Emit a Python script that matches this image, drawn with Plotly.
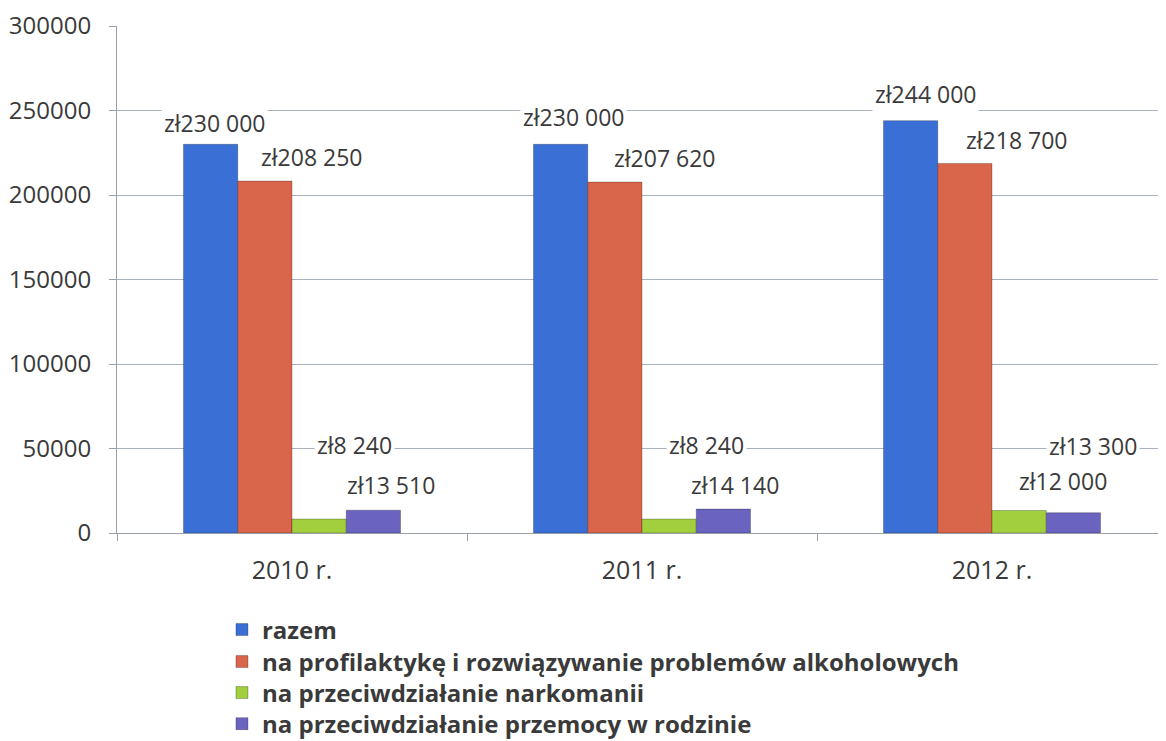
import plotly.graph_objects as go

years = ["2010 r.", "2011 r.", "2012 r."]
series_names = [
    "razem",
    "na profilaktykę i rozwiązywanie problemów alkoholowych",
    "na przeciwdziałanie narkomanii",
    "na przeciwdziałanie przemocy w rodzinie",
]
razem = [230000, 230000, 244000]
alkohol = [208250, 207620, 218700]
narkomania = [8240, 8240, 13300]
przemoc = [13510, 14140, 12000]
series_values = [razem, alkohol, narkomania, przemoc]
colors = ["#3a6fd6", "#d9654b", "#a2cf3e", "#6b63c0"]
y_ticks = [0, 50000, 100000, 150000, 200000, 250000, 300000]

# label offsets (pixels) relative to category centre / bar top
label_dx = [
    [-78, 19, 62, 99],
    [-69, 22, 64, 93],
    [-67, 24, 101, 71],
]
label_dy = [
    [21, 24, 74, 25],
    [27, 24, 74, 24],
    [27, 23, 65, 32],
]
# legend row centres (container fraction from bottom)
legend_rows = [0.1606, 0.1174, 0.0756, 0.0337]


def fmt(v):
    return "zł" + f"{v:,}".replace(",", " ")


FONT = "'Open Sans', Lato, sans-serif"
TXT = "#3a3a3a"

fig = go.Figure()
legend_ids = ["legend", "legend2", "legend3", "legend4"]
for name, vals, col, lid in zip(series_names, series_values, colors, legend_ids):
    fig.add_trace(go.Bar(
        name=name, x=years, y=vals, legend=lid,
        marker=dict(color=col, line=dict(color="rgba(0,0,0,0.25)", width=1)),
    ))

annotations = []
for ci, yr in enumerate(years):
    for si, vals in enumerate(series_values):
        annotations.append(dict(
            x=yr, y=vals[ci], xref="x", yref="y",
            text=fmt(vals[ci]), showarrow=False,
            xshift=label_dx[ci][si], yshift=label_dy[ci][si],
            yanchor="middle", xanchor="center",
            bgcolor="white", borderpad=2,
            font=dict(family=FONT, size=23, color=TXT),
        ))

legend_style = dict(
    orientation="v", xref="container", yref="container",
    x=0.1835, xanchor="left", yanchor="middle",
    font=dict(family=FONT, size=24, color=TXT, weight=700),
    itemwidth=30, bgcolor="rgba(0,0,0,0)",
)
legends = {}
for lid, ypos in zip(legend_ids, legend_rows):
    legends[lid] = dict(legend_style, y=ypos)

fig.update_layout(
    width=1166, height=741,
    margin=dict(l=109, r=7, t=18, b=216, autoexpand=False),
    paper_bgcolor="white", plot_bgcolor="white",
    barmode="group", bargap=0.38, bargroupgap=0,
    font=dict(family=FONT, size=23, color=TXT),
    annotations=annotations,
    showlegend=True,
    **legends,
    xaxis=dict(
        type="category", showgrid=False, automargin=False, tickangle=0,
        showline=True, linecolor="#9aa0ab", linewidth=1,
        ticks="outside", tickson="boundaries", ticklen=7, tickcolor="#9aa0ab",
        ticklabelstandoff=15,
        tickfont=dict(family=FONT, size=25, color=TXT),
    ),
    yaxis=dict(
        range=[0, 300000], tickvals=y_ticks, tickformat="d", automargin=False,
        showgrid=True, gridcolor="#a9b1c1", gridwidth=1,
        showline=True, linecolor="#9aa0ab", linewidth=1,
        ticks="outside", ticklen=7, tickcolor="#9aa0ab",
        ticklabelstandoff=13,
        tickfont=dict(family=FONT, size=24, color=TXT),
        zeroline=False,
    ),
)

fig.write_html("out.html")
